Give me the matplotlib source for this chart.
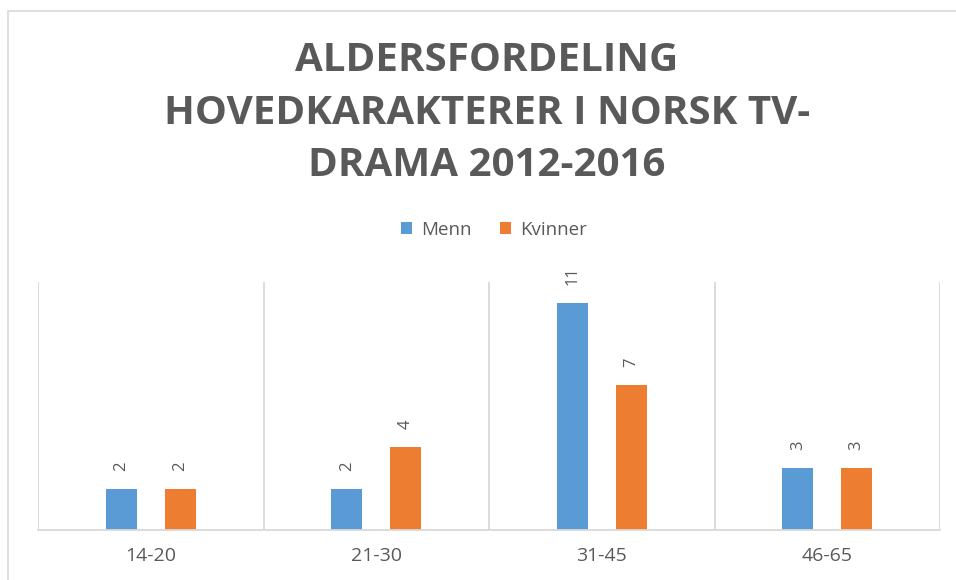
import matplotlib.pyplot as plt
from matplotlib.patches import Rectangle

categories = ["14-20", "21-30", "31-45", "46-65"]
menn = [2, 2, 11, 3]
kvinner = [2, 4, 7, 3]
title = "ALDERSFORDELING\nHOVEDKARAKTERER I NORSK TV-\nDRAMA 2012-2016"

plt.rcParams["font.family"] = ["Open Sans", "DejaVu Sans"]

fig = plt.figure(figsize=(9.56, 5.8), dpi=100)
ax = fig.add_axes([38 / 956, 50 / 580, 902 / 956, 248 / 580])

# outer chart border (only top/left visible in reference)
fig.patches.append(
    Rectangle((8 / 956, -0.1), 1.2, 1.1 - 11 / 580, transform=fig.transFigure,
              fill=False, edgecolor="#d9d9d9", linewidth=1.2)
)

x = range(len(categories))
w = 0.137
off = 0.13
b1 = ax.bar([i - off for i in x], menn, width=w, color="#5b9bd5", label="Menn")
b2 = ax.bar([i + off for i in x], kvinner, width=w, color="#ed7d31", label="Kvinner")

for bars in (b1, b2):
    ax.bar_label(bars, rotation=90, padding=13, fontsize=12, color="#595959")

ax.set_xlim(-0.5, len(categories) - 0.5)
ax.set_ylim(0, 12)
ax.set_xticks(list(x))
ax.set_xticklabels(categories, fontsize=14, color="#595959")
ax.set_xticks([i - 0.5 for i in range(len(categories) + 1)], minor=True)
ax.tick_params(axis="x", which="both", length=0, pad=12)
ax.set_yticks([])
ax.grid(axis="x", which="minor", color="#d9d9d9", linewidth=1.3)
ax.set_axisbelow(True)
for side in ("top", "left", "right"):
    ax.spines[side].set_visible(False)
ax.spines["bottom"].set_color("#d9d9d9")
ax.spines["bottom"].set_linewidth(1.3)

fig.text(487 / 956, 1 - 113 / 580, title, ha="center", va="center",
         fontsize=29, fontweight="bold", color="#595959", linespacing=1.45)

fig.legend(handles=[b1, b2], loc="center", bbox_to_anchor=(494 / 956, 1 - 230 / 580),
           ncol=2, frameon=False, fontsize=13.5, labelcolor="#595959",
           handlelength=0.6, handleheight=0.6, handletextpad=0.5, columnspacing=1.5)

fig.savefig("out.png", dpi=100)
